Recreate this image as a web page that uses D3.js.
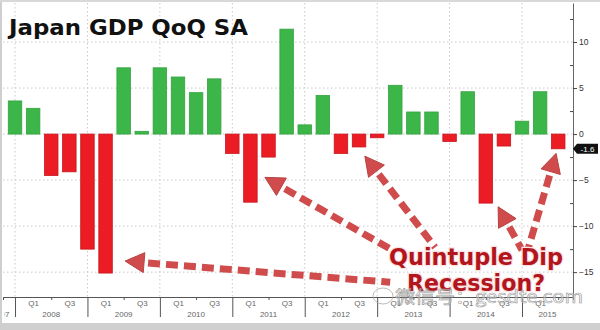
<!DOCTYPE html>
<html>
<head>
<meta charset="utf-8">
<script src="https://cdn.jsdelivr.net/npm/d3@7"></script>
<style>
  body { margin: 0; background: #fff; }
  svg { display: block; }
  .tick text { font-family: "Liberation Sans", Arial, sans-serif; }
</style>
</head>
<body>
<div id="chart"></div>
<script>
// quarters, each bar sits at the end of its quarter
const quarters = [
  '2007Q4',
  '2008Q1','2008Q2','2008Q3','2008Q4',
  '2009Q1','2009Q2','2009Q3','2009Q4',
  '2010Q1','2010Q2','2010Q3','2010Q4',
  '2011Q1','2011Q2','2011Q3','2011Q4',
  '2012Q1','2012Q2','2012Q3','2012Q4',
  '2013Q1','2013Q2','2013Q3','2013Q4',
  '2014Q1','2014Q2','2014Q3','2014Q4',
  '2015Q1','2015Q2'
];
// Japan GDP QoQ SA (annualised, %)
const gdpQoQ = [
  3.6,
  2.8, -4.5, -4.1, -12.5,
  -15.1, 7.2, 0.3, 7.2,
  6.2, 4.5, 6.0, -2.1,
  -7.4, -2.5, 11.4, 1.0,
  4.2, -2.1, -1.4, -0.4,
  5.3, 2.4, 2.4, -0.8,
  4.6, -7.5, -1.3, 1.4,
  4.6, -1.6
];
const yearTicks = [2008, 2009, 2010, 2011, 2012, 2013, 2014, 2015];
const yearLabels = ['2007','2008','2009','2010','2011','2012','2013','2014','2015'];
const yTicks = [10, 5, 0, -5, -10, -15];
const yMinor = [12.5, 7.5, 2.5, -2.5, -7.5, -12.5];
const lastLabel = '-1.6';

// arrows of the "quintuple dip" note, in data space (t = year fraction, v = %)
const arrowTips  = [[2009.52, -13.8], [2011.45, -4.7], [2012.83, -2.4], [2014.67, -7.9], [2015.47, -2.1]];
const arrowTails = [[2013.18, -16.1], [2013.25, -12.8], [2013.80, -12.3], [2015.00, -12.6], [2015.08, -12.6]];

const W = 600, H = 330;
const svg = d3.select('#chart').append('svg').attr('width', W).attr('height', H);
svg.append('rect').attr('width', W).attr('height', H).attr('fill', '#fff');

const x = d3.scaleLinear().domain([2007.834, 2015.704]).range([3, 573]);
const y = d3.scaleLinear().domain([-17.7, 14.24]).range([297, 3]);
const qTime = q => +q.slice(0, 4) + (+q[5]) / 4;

svg.append('clipPath').attr('id', 'plot')
  .append('rect').attr('x', 4.6).attr('y', 0).attr('width', 568).attr('height', 330);

// dotted grid
const grid = svg.append('g').attr('stroke', '#c9c9c9').attr('stroke-dasharray', '1.5,2.5');
grid.selectAll('.h').data(yTicks).join('line')
  .attr('x1', 3).attr('x2', 573).attr('y1', d => y(d)).attr('y2', d => y(d));
grid.selectAll('.v').data(yearTicks).join('line')
  .attr('x1', d => x(d)).attr('x2', d => x(d)).attr('y1', 3).attr('y2', 297);

// bars
const bw = 13.5;
svg.append('g').selectAll('rect').data(quarters).join('rect')
  .attr('x', d => x(qTime(d)) - bw / 2)
  .attr('y', (d, i) => y(Math.max(0, gdpQoQ[i])))
  .attr('width', bw)
  .attr('height', (d, i) => Math.abs(y(gdpQoQ[i]) - y(0)))
  .attr('fill', (d, i) => gdpQoQ[i] >= 0 ? '#3cb648' : '#ec1c24')
  .attr('stroke', (d, i) => gdpQoQ[i] >= 0 ? '#34a240' : '#c8161d')
  .attr('stroke-width', 0.8);

// bottom axis: year separators, quarter labels, minor ticks
const xg = svg.append('g').attr('transform', 'translate(0,297)');
xg.append('g').call(d3.axisBottom(x).tickValues(yearTicks).tickSize(20).tickSizeOuter(0).tickFormat(''));
const qVals = yearTicks.flatMap(yr => [yr + 0.25, yr + 0.75]).filter(t => t < 2015.7);
xg.append('g').call(d3.axisBottom(x).tickValues(qVals).tickSize(0).tickPadding(3)
  .tickFormat(t => (t % 1 === 0.25 ? 'Q1' : 'Q3')));
xg.append('g').call(d3.axisBottom(x).tickValues(yearTicks.map(yr => yr + 0.5)).tickSize(3).tickFormat(''));
xg.selectAll('.domain').attr('stroke', '#555');
xg.selectAll('.tick line').attr('stroke', '#555');
xg.selectAll('.tick text').attr('fill', '#666').attr('font-size', 8);

const yl = svg.append('g').attr('clip-path', 'url(#plot)')
  .attr('font-family', '"Liberation Sans", Arial, sans-serif').attr('font-size', 8).attr('fill', '#666');
yearLabels.forEach(lab => {
  const yr = +lab;
  const a = Math.max(x(yr), 3), b = Math.min(x(yr + 1), 573);
  const t = yl.append('text').attr('y', 317).text(lab);
  if (x(yr) < 3) t.attr('x', b - 5.5).attr('text-anchor', 'end');
  else t.attr('x', (a + b) / 2).attr('text-anchor', 'middle');
});

// right axis
const yg = svg.append('g').attr('transform', 'translate(573,0)');
yg.call(d3.axisRight(y).tickValues(yTicks).tickSize(4).tickSizeOuter(0).tickPadding(2));
yg.append('g').call(d3.axisLeft(y).tickValues(yMinor).tickSize(3).tickFormat(''))
  .select('.domain').remove();
yg.selectAll('.domain').attr('stroke', '#666');
yg.selectAll('.tick line').attr('stroke', '#444');
yg.selectAll('.tick text').attr('fill', '#333').attr('font-size', 8.5);

// last value callout
const ly = y(gdpQoQ[gdpQoQ.length - 1]);
svg.append('path')
  .attr('d', `M573,${ly} L577,${ly - 5} H598 V${ly + 5} H577 Z`)
  .attr('fill', '#111');
svg.append('text').attr('x', 587.5).attr('y', ly + 3).attr('text-anchor', 'middle')
  .attr('font-family', '"Liberation Sans", Arial, sans-serif').attr('font-size', 8)
  .attr('fill', '#fff').text(lastLabel);

// title
svg.append('text').attr('x', 9).attr('y', 35)
  .attr('font-family', '"DejaVu Sans", Verdana, sans-serif').attr('font-weight', 'bold')
  .attr('font-size', 21).attr('fill', '#111')
  .attr('textLength', 239).attr('lengthAdjust', 'spacingAndGlyphs')
  .text('Japan GDP QoQ SA');

// dashed arrows
const arrows = svg.append('g');
arrowTips.forEach((tip, i) => {
  const tx = x(tip[0]), ty = y(tip[1]);
  const sx = x(arrowTails[i][0]), sy = y(arrowTails[i][1]);
  const len = Math.hypot(tx - sx, ty - sy);
  const ux = (tx - sx) / len, uy = (ty - sy) / len;
  const hl = 19, hw = 10;
  const bx = tx - ux * hl, by = ty - uy * hl;
  arrows.append('line')
    .attr('x1', bx - ux * 4).attr('y1', by - uy * 4).attr('x2', sx).attr('y2', sy)
    .attr('stroke', '#d04c4c').attr('stroke-width', 7)
    .attr('stroke-dasharray', '12,6').attr('stroke-linecap', 'butt');
  arrows.append('path')
    .attr('d', `M${tx},${ty} L${bx - uy * hw},${by + ux * hw} L${bx + uy * hw},${by - ux * hw} Z`)
    .attr('fill', '#d04c4c').attr('stroke', '#b94040').attr('stroke-width', 1);
});

// note text
const note = svg.append('g')
  .attr('font-family', '"DejaVu Sans", Verdana, sans-serif').attr('font-weight', 'bold')
  .attr('font-size', 23).attr('fill', '#b3151d')
  .attr('stroke', '#fbe3e3').attr('stroke-width', 2.5).attr('paint-order', 'stroke');
note.append('text').attr('x', 389).attr('y', 265)
  .attr('textLength', 174).attr('lengthAdjust', 'spacingAndGlyphs').text('Quintuple Dip');
note.append('text').attr('x', 407).attr('y', 291)
  .attr('textLength', 138).attr('lengthAdjust', 'spacingAndGlyphs').text('Recession?');

// watermark
svg.append('ellipse').attr('cx', 383).attr('cy', 296).attr('rx', 10).attr('ry', 8)
  .attr('fill', 'none').attr('stroke', '#aaa').attr('stroke-width', 0.8);
svg.append('text').attr('x', 395).attr('y', 303)
  .attr('font-family', '"Noto Sans CJK SC", sans-serif').attr('font-size', 17)
  .attr('fill', '#fff').attr('fill-opacity', 0.4).attr('stroke', '#999').attr('stroke-width', 0.6)
  .attr('textLength', 188).attr('lengthAdjust', 'spacingAndGlyphs')
  .text('微信号：gesdte.com');

// frame
svg.append('rect').attr('x', 0).attr('y', 323).attr('width', W).attr('height', 7).attr('fill', '#cfcfcf');
svg.append('rect').attr('x', 0).attr('y', 0).attr('width', 2).attr('height', H).attr('fill', '#cfcfcf');
svg.append('rect').attr('x', 0).attr('y', 0).attr('width', W).attr('height', 2).attr('fill', '#d8d8d8');
</script>
</body>
</html>
